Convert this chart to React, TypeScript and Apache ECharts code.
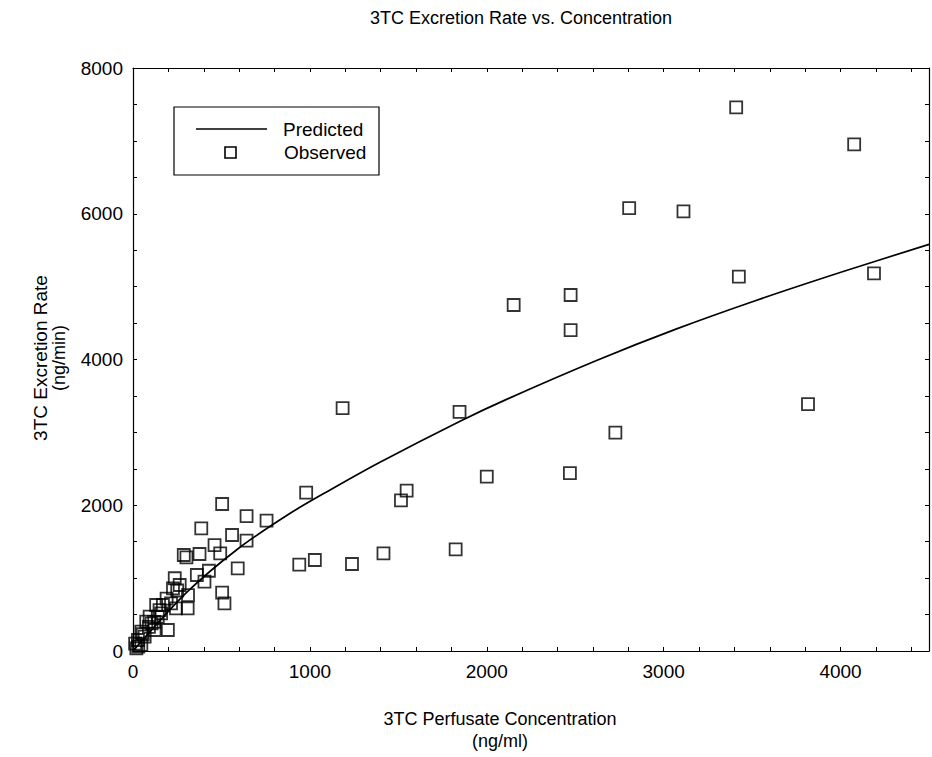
import React, { useEffect, useRef } from "react";
import * as echarts from "echarts";

const titleText = "3TC Excretion Rate vs. Concentration";
const xNameLines = ["3TC Perfusate Concentration", "(ng/ml)"];
const yNameLines = ["3TC Excretion Rate", "(ng/min)"];
const legendNames = ["Predicted", "Observed"];

// Observed concentration (ng/ml) and excretion rate (ng/min)
const obsX = [
  3410, 4077, 2805, 3112, 3425, 4189, 2474, 2152, 2474, 1185, 1846, 3816, 2727, 2000, 2470,
  1547, 1515, 1238, 1416, 1824, 979, 940, 1028,
  504, 642, 755, 386, 560, 642, 461, 287, 302, 376, 493, 592, 429, 361, 404, 236, 504, 517,
  311, 226, 264,
  131, 169, 215, 243, 309, 197, 159, 94, 75, 122, 47, 66, 28, 47, 19,
  55, 90, 120, 150, 190, 250, 30, 12, 105, 140,
];
const obsY = [
  7460, 6952, 6078, 6033, 5136, 5183, 4885, 4748, 4404, 3334, 3280, 3389, 2996, 2392, 2442,
  2200, 2068, 1194, 1340, 1395, 2172, 1184, 1249,
  2017, 1852, 1788, 1683, 1592, 1514, 1454, 1317, 1285, 1331, 1340, 1134, 1101, 1043, 951, 998,
  800, 654, 768, 860, 906,
  631, 631, 654, 586, 586, 288, 517, 471, 402, 288, 265, 196, 151, 82, 37,
  230, 330, 400, 560, 720, 830, 60, 100, 380, 470,
];

// Predicted curve
const predX = [0, 302, 592, 882, 1107, 1388, 1846, 2118, 2624, 3073, 3522, 4006, 4500];
const predY = [0, 800, 1400, 1880, 2200, 2580, 3150, 3460, 3990, 4420, 4810, 5200, 5580];

const xLabelTicks = [0, 1000, 2000, 3000, 4000];
const yLabelTicks = [0, 2000, 4000, 6000, 8000];

const FONT = "'Liberation Sans', Arial, Helvetica, sans-serif";

export default function App() {
  const ref = useRef<HTMLDivElement>(null);
  useEffect(() => {
    if (!ref.current) return;
    const chart = echarts.init(ref.current, null, { renderer: "svg" });
    const axisLine = { show: true, onZero: false, lineStyle: { color: "#000", width: 1.2 } };
    const tick = { show: true, inside: true, length: 4, lineStyle: { color: "#000", width: 1 } };
    const labelStyle = { color: "#000", fontSize: 19, fontFamily: FONT };
    const xAx = (pos: string, showLabel: boolean) => ({
      type: "value",
      position: pos,
      min: 0,
      max: 4500,
      interval: 200,
      axisLine,
      axisTick: tick,
      axisLabel: {
        show: showLabel,
        ...labelStyle,
        margin: 11,
        formatter: (v: number) => (xLabelTicks.indexOf(v) >= 0 ? String(v) : ""),
      },
      splitLine: { show: false },
    });
    const yAx = (pos: string, showLabel: boolean) => ({
      type: "value",
      position: pos,
      min: 0,
      max: 8000,
      interval: 500,
      axisLine,
      axisTick: tick,
      axisLabel: {
        show: showLabel,
        ...labelStyle,
        margin: 10,
        formatter: (v: number) => (yLabelTicks.indexOf(v) >= 0 ? String(v) : ""),
      },
      splitLine: { show: false },
    });

    const obsData = obsX.map((x, i) => [x, obsY[i]]);
    const predData = predX.map((x, i) => [x, predY[i]]);

    const txt = (text: string, x: number, y: number, size: number, align = "center") => ({
      type: "text",
      z: 11,
      style: {
        text,
        x,
        y,
        align,
        verticalAlign: "middle",
        fontSize: size,
        fontFamily: FONT,
        fill: "#000",
      },
    });
    const vtxt = (text: string, x: number, y: number, size: number) => ({
      type: "text",
      x,
      y,
      rotation: Math.PI / 2,
      style: {
        text,
        x: 0,
        y: 0,
        align: "center",
        verticalAlign: "middle",
        fontSize: size,
        fontFamily: FONT,
        fill: "#000",
      },
    });

    chart.setOption({
      animation: false,
      backgroundColor: "#fff",
      textStyle: { fontFamily: FONT },
      grid: { left: 133, top: 68, width: 798, height: 583, containLabel: false },
      xAxis: [xAx("bottom", true), xAx("top", false)],
      yAxis: [yAx("left", true), yAx("right", false)],
      series: [
        {
          name: legendNames[0],
          type: "line",
          data: predData,
          showSymbol: false,
          smooth: 0.3,
          lineStyle: { color: "#000", width: 1.7 },
          xAxisIndex: 0,
          yAxisIndex: 0,
          z: 3,
        },
        {
          name: legendNames[1],
          type: "scatter",
          data: obsData,
          symbol: "rect",
          symbolSize: 12,
          itemStyle: { color: "rgba(0,0,0,0)", borderColor: "#000", borderWidth: 1.8 },
          xAxisIndex: 0,
          yAxisIndex: 0,
          z: 4,
        },
      ],
      graphic: [
        txt(titleText, 521, 18, 18),
        txt(xNameLines[0], 500, 719, 18),
        txt(xNameLines[1], 500, 741, 18),
        vtxt(yNameLines[0], 40, 358, 19),
        vtxt(yNameLines[1], 59, 358, 18),
        {
          type: "rect",
          z: 10,
          shape: { x: 174, y: 107, width: 205, height: 68 },
          style: { fill: "#fff", stroke: "#000", lineWidth: 1.2 },
        },
        {
          type: "line",
          z: 11,
          shape: { x1: 196, y1: 129, x2: 267, y2: 129 },
          style: { stroke: "#000", lineWidth: 1.4 },
        },
        {
          type: "rect",
          z: 11,
          shape: { x: 225, y: 147, width: 11, height: 11 },
          style: { fill: "rgba(0,0,0,0)", stroke: "#000", lineWidth: 1.6 },
        },
        txt(legendNames[0], 283, 129, 19, "left"),
        txt(legendNames[1], 284, 152, 19, "left"),
      ],
    });
    return () => chart.dispose();
  }, []);
  return (
    <div
      ref={ref}
      style={{ position: "fixed", left: 0, top: 0, width: 932, height: 757, background: "#fff" }}
    />
  );
}
